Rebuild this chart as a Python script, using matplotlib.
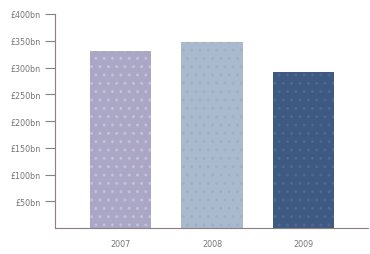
import matplotlib
matplotlib.use("Agg")
import matplotlib.pyplot as plt

plt.rcParams['font.family'] = ['DejaVu Sans']

years = ["2007", "2008", "2009"]
values = [331, 348, 292]
colors = ["#aca6c6", "#a9b9ce", "#3e5a82"]
hatch_colors = ["#b8c4d8", "#9fb0c6", "#4a6a90"]
yticks = [50, 100, 150, 200, 250, 300, 350, 400]
ytick_labels = ["£50bn", "£100bn", "£150bn", "£200bn", "£250bn", "£300bn", "£350bn", "£400bn"]

fig = plt.figure(figsize=(3.7, 2.55), dpi=100)
ax = fig.add_axes([55/370, 26/255, 313/370, 214/255])

x = list(range(len(years)))
bars = ax.bar(x, values, width=0.67, color=colors, linewidth=0)
plt.rcParams['hatch.linewidth'] = 0.4
for b, hc in zip(bars, hatch_colors):
    b.set_hatch("..")
    b.set_edgecolor(hc)
    b.set_linewidth(0)

ax.set_xlim(-0.716, 2.705)
ax.set_ylim(0, 400)
ax.set_yticks(yticks)
ax.set_yticklabels(ytick_labels)
ax.set_xticks(x)
ax.set_xticklabels(years)

for s in ["top", "right"]:
    ax.spines[s].set_visible(False)
for s in ["left", "bottom"]:
    ax.spines[s].set_color("#8c8080")
    ax.spines[s].set_linewidth(0.8)
    ax.spines[s].set_linestyle((0, (1, 0.5)))

ax.tick_params(axis="y", length=7, width=0.8, color="#8c8080", pad=3,
               labelsize=5.8, labelcolor="#777777")
ax.tick_params(axis="x", length=0, pad=8, labelsize=5.8, labelcolor="#777777")

fig.savefig("out.png", dpi=100)
